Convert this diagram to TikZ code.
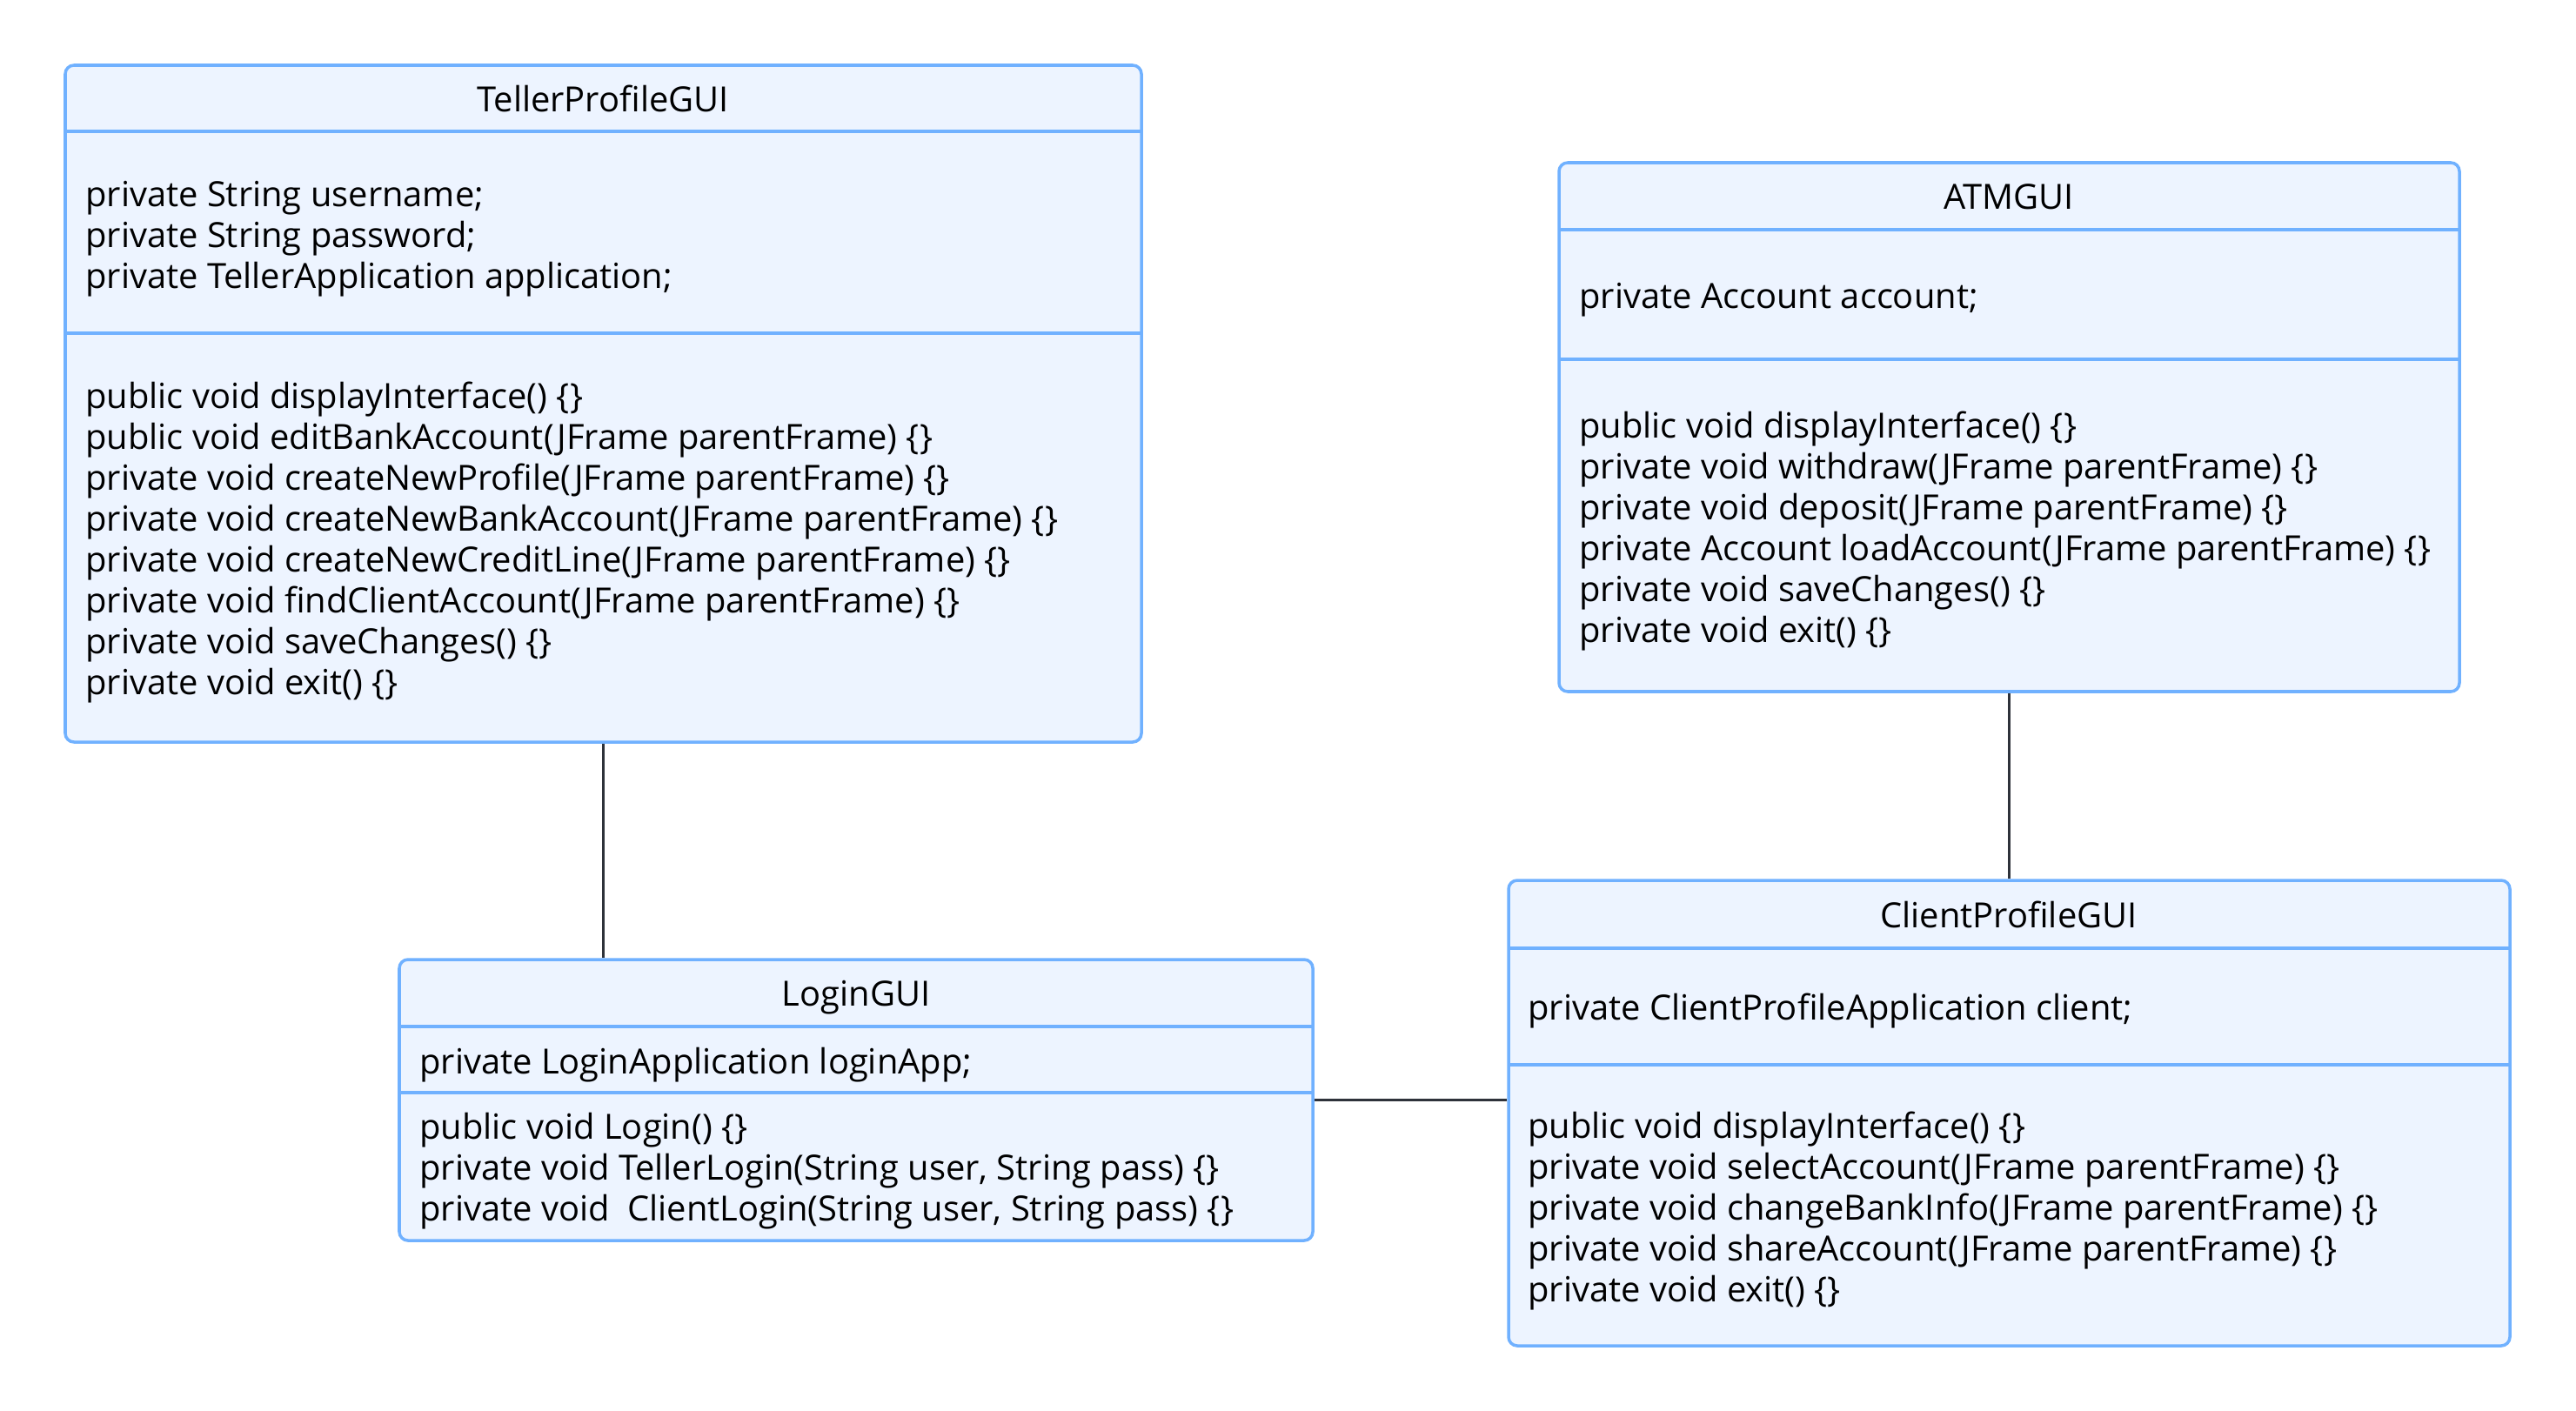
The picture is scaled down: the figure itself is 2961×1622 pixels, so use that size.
\documentclass[tikz,border=0pt]{standalone}
\usepackage{fontspec}
\setmainfont{Open Sans}
\usetikzlibrary{fit}

\definecolor{boxfill}{HTML}{EDF4FF}
\definecolor{boxline}{HTML}{70B1FF}
\definecolor{linkline}{HTML}{2E323A}

\tikzset{
    classbox/.style={draw=boxline, fill=boxfill, line width=2pt, rounded corners=0.2cm, inner sep=0pt},
    sepline/.style={draw=boxline, line width=2pt},
    classname/.style={font=\fontsize{22.7}{27}\selectfont, anchor=base, inner sep=0pt},
    member/.style={font=\fontsize{22.7}{27}\selectfont, anchor=base west, inner sep=0pt},
    link/.style={draw=linkline, line width=1.2pt}
}

\begin{document}
\begin{tikzpicture}[x=0.02cm, y=-0.02cm]
    \useasboundingbox (0,0) rectangle (2961,1622);

    % TellerProfileGUI
    \node[classbox, fit={(75,75) (1312,853)}] (teller) {};
    \draw[sepline] (75,151) -- (1312,151);
    \draw[sepline] (75,383) -- (1312,383);
    \node[classname] (tellertitle) at (693,129) {TellerProfileGUI};
    \foreach \txt [count=\i from 0] in {private String username;, private String password;, private TellerApplication application;} {
        \node[member] (ta\i) at (98,237+47*\i) {\txt};
    }
    \foreach \txt [count=\i from 0] in {public void displayInterface() \{\}, public void editBankAccount(JFrame parentFrame) \{\}, private void createNewProfile(JFrame parentFrame) \{\}, private void createNewBankAccount(JFrame parentFrame) \{\}, private void createNewCreditLine(JFrame parentFrame) \{\}, private void findClientAccount(JFrame parentFrame) \{\}, private void saveChanges() \{\}, private void exit() \{\}} {
        \node[member] (tm\i) at (98,469+47*\i) {\txt};
    }

    % ATMGUI
    \node[classbox, fit={(1792,187) (2827,795)}] (atm) {};
    \draw[sepline] (1792,264) -- (2827,264);
    \draw[sepline] (1792,413) -- (2827,413);
    \node[classname] (atmtitle) at (2309,241) {ATMGUI};
    \node[member] (aa0) at (1815,354) {private Account account;};
    \foreach \txt [count=\i from 0] in {public void displayInterface() \{\}, private void withdraw(JFrame parentFrame) \{\}, private void deposit(JFrame parentFrame) \{\}, private Account loadAccount(JFrame parentFrame) \{\}, private void saveChanges() \{\}, private void exit() \{\}} {
        \node[member] (am\i) at (1815,503+47*\i) {\txt};
    }

    % LoginGUI
    \node[classbox, fit={(459,1103) (1509,1426)}] (login) {};
    \draw[sepline] (459,1180) -- (1509,1180);
    \draw[sepline] (459,1256) -- (1509,1256);
    \node[classname] (logintitle) at (984,1156) {LoginGUI};
    \node[member] (la0) at (482,1234) {private LoginApplication loginApp;};
    \foreach \txt [count=\i from 0] in {public void Login() \{\}, {private void TellerLogin(String user, String pass) \{\}}, {private void\ \ ClientLogin(String user, String pass) \{\}}} {
        \node[member] (lm\i) at (482,1309+47*\i) {\txt};
    }

    % ClientProfileGUI
    \node[classbox, fit={(1734,1012) (2885,1547)}] (client) {};
    \draw[sepline] (1734,1090) -- (2885,1090);
    \draw[sepline] (1734,1224) -- (2885,1224);
    \node[classname] (clienttitle) at (2309,1066) {ClientProfileGUI};
    \node[member] (ca0) at (1756,1172) {private ClientProfileApplication client;};
    \foreach \txt [count=\i from 0] in {public void displayInterface() \{\}, private void selectAccount(JFrame parentFrame) \{\}, private void changeBankInfo(JFrame parentFrame) \{\}, private void shareAccount(JFrame parentFrame) \{\}, private void exit() \{\}} {
        \node[member] (cm\i) at (1756,1308+47*\i) {\txt};
    }

    % links
    \draw[link] (teller.south) -- (teller.south |- login.north);
    \draw[link] (atm.south) -- (client.north);
    \draw[link] (login.east) -- (login.east -| client.west);

\end{tikzpicture}
\end{document}
